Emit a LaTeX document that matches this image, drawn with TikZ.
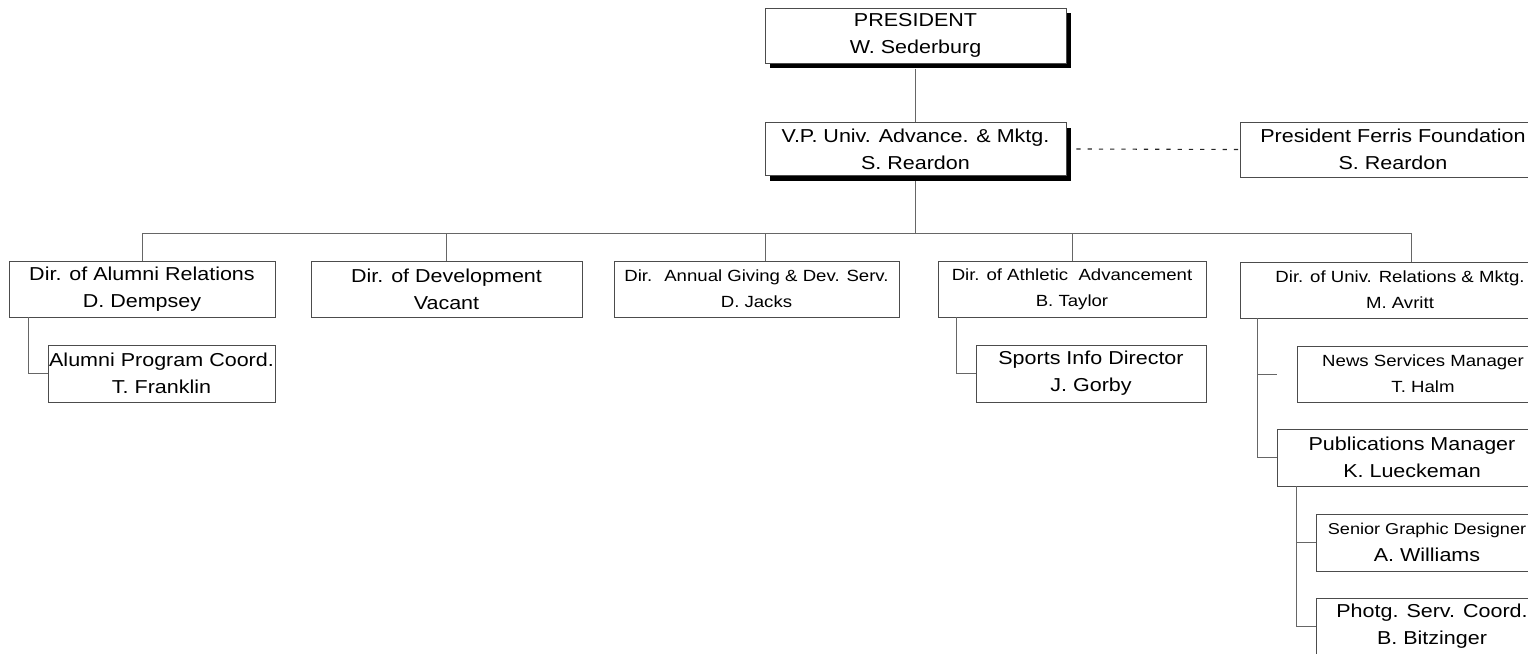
\documentclass[tikz,border=0pt]{standalone}
\usepackage{fontspec}
\setmainfont{Liberation Sans}[FakeStretch=1.15]
\usetikzlibrary{shadows}
\newcommand{\smallfont}{\fontsize{11.5}{18.5}\selectfont}

\begin{document}
\begin{tikzpicture}
  [x=0.025cm, y=-0.025cm,
   box/.style={draw=black!70, line width=0.5pt, fill=white, inner sep=0pt,
     align=center, minimum height=1.4cm, font=\fontsize{13.3}{19.2}\selectfont},
   smalltext/.style={font=\smallfont},
   shade/.style={drop shadow={shadow xshift=0.13cm, shadow yshift=-0.13cm,
     fill=black, opacity=1}},
   link/.style={draw=black!60, line width=0.5pt},
   dotlink/.style={draw=black!85, line width=0.8pt, dash pattern=on 3pt off 5pt},
  ]
  \useasboundingbox (0,0) rectangle (1528,653);
  \clip (0,0) rectangle (1528,653);

  % top
  \node[box, shade, minimum width=7.525cm, minimum height=1.375cm] (pres) at (915.5,35.5) {PRESIDENT\\W. Sederburg};
  \node[box, shade, minimum width=7.525cm, minimum height=1.325cm] (vp) at (915.5,149) {V.P. Univ. Advance. \& Mktg.\\S. Reardon};
  \node[box, minimum width=7.65cm, minimum height=1.375cm] (found) at (1393,149.5) {President Ferris Foundation\\S. Reardon};

  % directors
  \node[box, minimum width=6.65cm] (alumni) at (142,289) {Dir. of Alumni Relations\\D. Dempsey};
  \node[box, minimum width=6.775cm] (dev) at (446.5,289) {Dir. of Development\\Vacant};
  \node[box, smalltext, minimum width=7.125cm] (annual) at (756.5,289) {Dir.~ Annual Giving \& Dev. Serv.\\D. Jacks};
  \node[box, smalltext, minimum width=6.7cm] (athl) at (1072,289) {Dir. of Athletic~ Advancement\\B. Taylor};
  \node[box, smalltext, minimum width=8cm] (univ) at (1400,290) {Dir. of Univ. Relations \& Mktg.\\M. Avritt};

  % staff
  \node[box, minimum width=5.675cm, minimum height=1.425cm] (alprog) at (161.5,373.5) {Alumni Program Coord.\\T. Franklin};
  \node[box, minimum width=5.75cm, minimum height=1.425cm] (sports) at (1091,373.5) {Sports Info Director\\J. Gorby};
  \node[box, smalltext, minimum width=6.3cm] (news) at (1423,374) {News Services Manager\\T. Halm};
  \node[box, minimum width=6.75cm, minimum height=1.425cm] (pub) at (1412,457.5) {Publications Manager\\K. Lueckeman};
  \node[box, minimum width=5.55cm, minimum height=1.425cm] (senior) at (1427,542.5) {{\fontsize{11.2}{18.5}\selectfont Senior Graphic Designer}\\A. Williams};
  \node[box, minimum width=5.8cm, minimum height=1.425cm] (photg) at (1432,626.5) {Photg. Serv. Coord.\\B. Bitzinger};

  % lines
  \coordinate (bus) at (0,233);
  \coordinate (annualtop) at ([xshift=0.21cm]annual.north);
  \coordinate (univtop) at ([xshift=0.275cm]univ.north);
  \coordinate (newsend) at ([xshift=-0.5cm]news.west);
  \draw[link] ([yshift=-0.13cm]pres.south) -- (vp.north);
  \draw[link] ([yshift=-0.13cm]vp.south) -- (vp.south |- bus);
  \draw[link] (alumni.north) -- (alumni.north |- bus) -- (univtop |- bus) -- (univtop);
  \draw[link] (dev.north) -- (dev.north |- bus);
  \draw[link] (annualtop) -- (annualtop |- bus);
  \draw[link] (athl.north) -- (athl.north |- bus);
  \draw[dotlink] ([xshift=0.25cm]vp.east) -- (found.west);

  \draw[link] ([xshift=0.5cm]alumni.south west) |- (alprog.west);
  \draw[link] ([xshift=0.475cm]athl.south west) |- (sports.west);
  \draw[link] ([xshift=0.45cm]univ.south west) |- (pub.west);
  \draw[link] ([xshift=0.45cm]univ.south west |- news.west) -- (newsend);
  \draw[link] ([xshift=0.5cm]pub.south west) |- (senior.west);
  \draw[link] ([xshift=0.5cm]pub.south west) |- (photg.west);
\end{tikzpicture}
\end{document}
